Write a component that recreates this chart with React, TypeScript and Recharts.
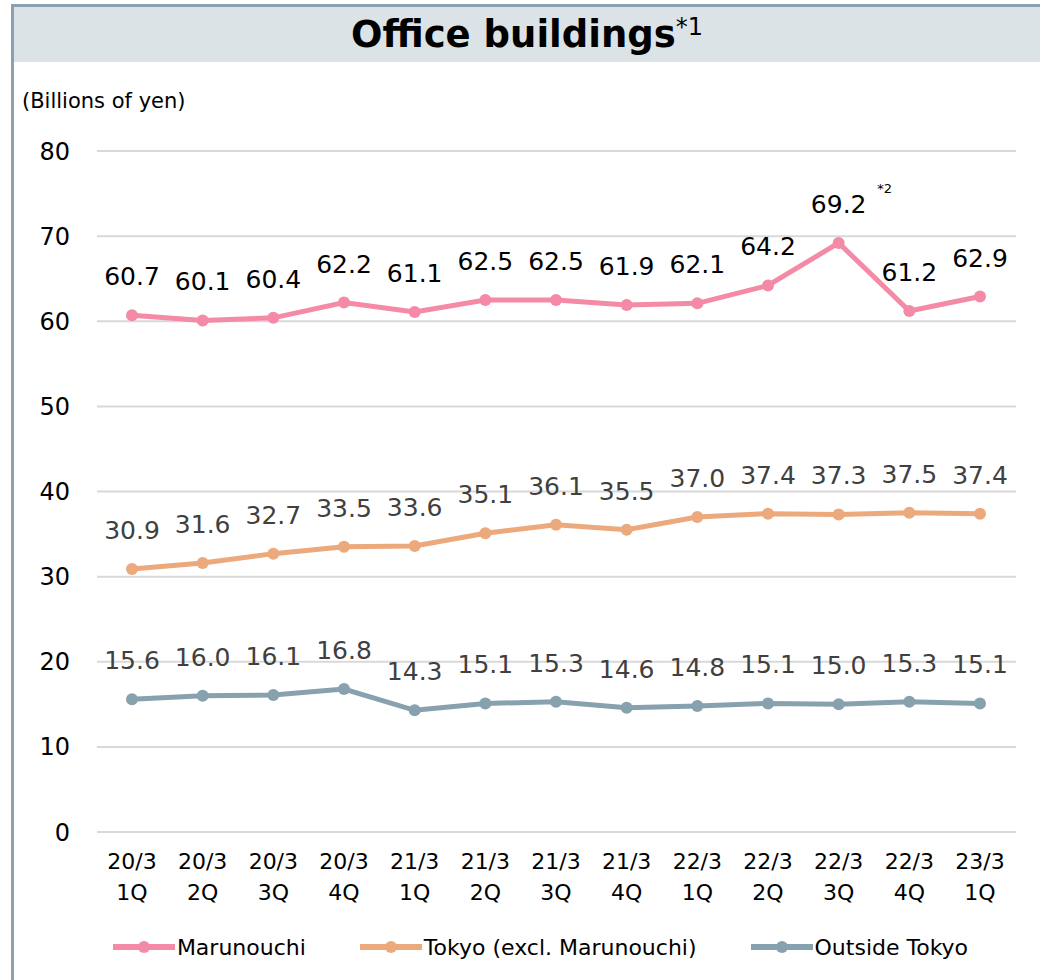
import React from "react";
import { CartesianGrid, LabelList, Legend, Line, LineChart, XAxis, YAxis } from "recharts";

const categories = [
  "20/3 1Q", "20/3 2Q", "20/3 3Q", "20/3 4Q",
  "21/3 1Q", "21/3 2Q", "21/3 3Q", "21/3 4Q",
  "22/3 1Q", "22/3 2Q", "22/3 3Q", "22/3 4Q",
  "23/3 1Q",
];
const marunouchi = [60.7, 60.1, 60.4, 62.2, 61.1, 62.5, 62.5, 61.9, 62.1, 64.2, 69.2, 61.2, 62.9];
const tokyo = [30.9, 31.6, 32.7, 33.5, 33.6, 35.1, 36.1, 35.5, 37.0, 37.4, 37.3, 37.5, 37.4];
const outside = [15.6, 16.0, 16.1, 16.8, 14.3, 15.1, 15.3, 14.6, 14.8, 15.1, 15.0, 15.3, 15.1];
const marunouchiNotes = ["", "", "", "", "", "", "", "", "", "", "*2", "", ""];
const yTicks = [0, 10, 20, 30, 40, 50, 60, 70, 80];

const FONT = "'DejaVu Sans', Verdana, sans-serif";
const FRAME = "#8ba1b1";

const series = [
  { key: "marunouchi", name: "Marunouchi", color: "#f48aa6", labelColor: "#000000" },
  { key: "tokyo", name: "Tokyo (excl. Marunouchi)", color: "#eba97c", labelColor: "#404040" },
  { key: "outside", name: "Outside Tokyo", color: "#87a1af", labelColor: "#404040" },
];

const data = categories.map((category, i) => ({
  category,
  marunouchi: marunouchi[i],
  tokyo: tokyo[i],
  outside: outside[i],
}));

function XTick({ x, y, payload }: any) {
  const [fy, q] = String(payload.value).split(" ");
  return (
    <g transform={`translate(${x},${y})`}>
      <text textAnchor="middle" fontSize={22} fontFamily={FONT} fill="#000">
        <tspan x={0} y={37}>{fy}</tspan>
        <tspan x={0} y={68}>{q}</tspan>
      </text>
    </g>
  );
}

function makeLabel(color: string, withNotes: boolean) {
  return (props: any) => {
    const { x, y, value, index } = props;
    const note = withNotes ? marunouchiNotes[index] : "";
    return (
      <g>
        <text x={x} y={y - 30} textAnchor="middle" fontSize={25} fontFamily={FONT} fill={color}>
          {Number(value).toFixed(1)}
        </text>
        {note ? (
          <text x={x + 46} y={y - 50} textAnchor="middle" fontSize={13} fontFamily={FONT} fill="#000">
            {note}
          </text>
        ) : null}
      </g>
    );
  };
}

function LegendContent() {
  return (
    <div
      style={{
        display: "flex",
        justifyContent: "center",
        alignItems: "center",
        height: 40,
        paddingLeft: 28,
        fontFamily: FONT,
        fontSize: 22,
        color: "#000",
      }}
    >
      {series.map((s, i) => (
        <div
          key={s.key}
          style={{ display: "flex", alignItems: "center", marginRight: i < series.length - 1 ? 54 : 0 }}
        >
          <svg width={62} height={14} style={{ marginRight: 2 }}>
            <line x1={0} y1={7} x2={62} y2={7} stroke={s.color} strokeWidth={6} />
            <circle cx={31} cy={7} r={6} fill={s.color} />
          </svg>
          <span>{s.name}</span>
        </div>
      ))}
    </div>
  );
}

export default function App() {
  return (
    <div
      style={{
        position: "absolute",
        left: 0,
        top: 0,
        width: 1040,
        height: 980,
        background: "#fff",
        overflow: "hidden",
      }}
    >
      <div
        style={{
          position: "absolute",
          left: 11,
          top: 4,
          width: 1029,
          height: 976,
          borderLeft: `3px solid ${FRAME}`,
          borderTop: `3px solid ${FRAME}`,
        }}
      />
      <div
        style={{
          position: "absolute",
          left: 14,
          top: 7,
          width: 1026,
          height: 55,
          background: "#dbe3e7",
        }}
      />
      <div
        style={{
          position: "absolute",
          left: 14,
          top: 7,
          width: 1026,
          height: 55,
          display: "flex",
          justifyContent: "center",
          alignItems: "center",
          fontFamily: FONT,
          color: "#000",
        }}
      >
        <span style={{ fontSize: 37, fontWeight: "bold" }}>Office buildings</span>
        <span style={{ fontSize: 24, position: "relative", top: -8 }}>*1</span>
      </div>
      <div
        style={{
          position: "absolute",
          left: 22,
          top: 89,
          fontFamily: FONT,
          fontSize: 21,
          color: "#000",
        }}
      >
        (Billions of yen)
      </div>
      <div style={{ position: "absolute", left: 0, top: 0 }}>
        <LineChart
          width={1040}
          height={980}
          data={data}
          margin={{ top: 151, right: 24, bottom: 13, left: 37 }}
        >
          <CartesianGrid vertical={false} stroke="#d9d9d9" strokeWidth={2} />
          <XAxis
            dataKey="category"
            interval={0}
            tickLine={false}
            axisLine={false}
            tickSize={0}
            tickMargin={0}
            height={95}
            padding={{ left: 35, right: 36 }}
            tick={<XTick />}
          />
          <YAxis
            domain={[0, 80]}
            ticks={yTicks}
            width={60}
            tickLine={false}
            axisLine={false}
            tickSize={6}
            tickMargin={21}
            tick={{ fontSize: 24, fontFamily: FONT, fill: "#000" }}
          />
          <Legend verticalAlign="bottom" align="center" content={<LegendContent />} />
          {series.map((s, i) => (
            <Line
              key={s.key}
              dataKey={s.key}
              name={s.name}
              stroke={s.color}
              strokeWidth={5}
              dot={{ r: 6, fill: s.color, stroke: "none" }}
              activeDot={false}
              isAnimationActive={false}
            >
              <LabelList dataKey={s.key} content={makeLabel(s.labelColor, i === 0)} />
            </Line>
          ))}
        </LineChart>
      </div>
    </div>
  );
}
